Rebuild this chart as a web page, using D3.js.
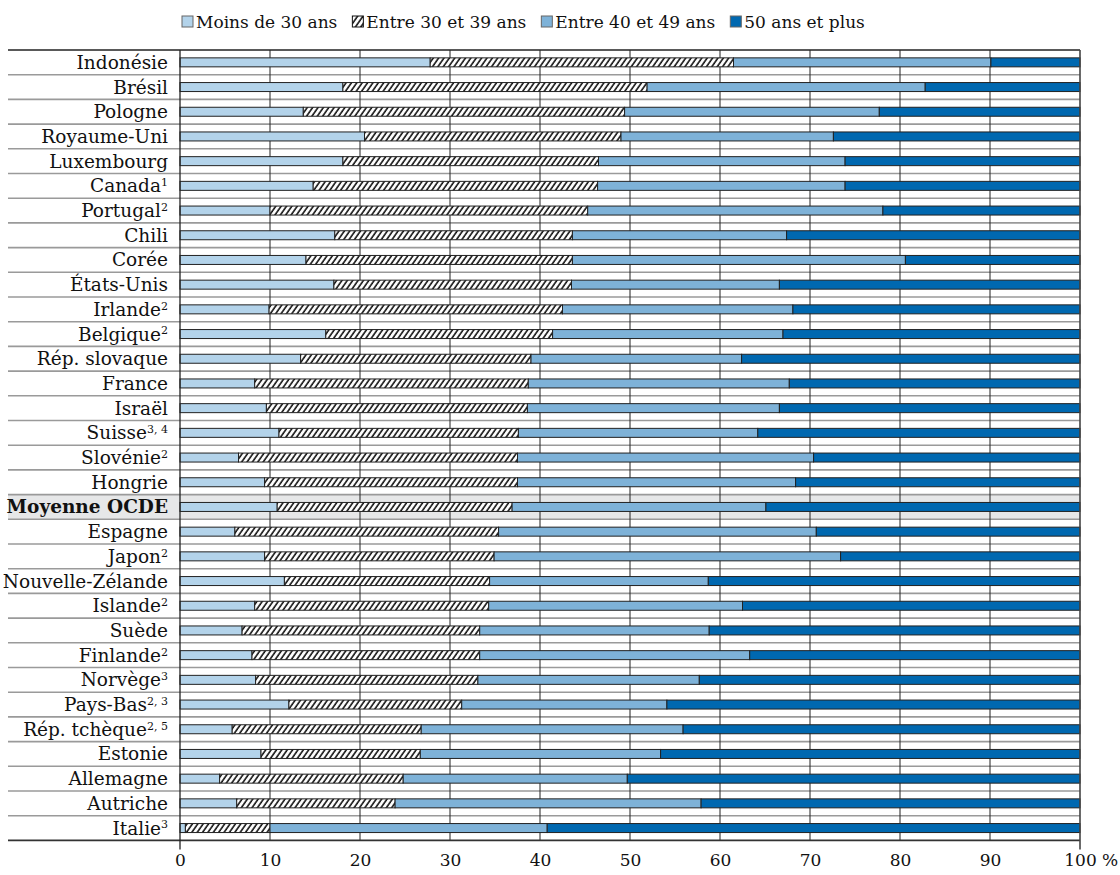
<!DOCTYPE html>
<html><head><meta charset="utf-8">
<script src="https://cdn.jsdelivr.net/npm/d3@7"></script>
<style>
html,body{margin:0;padding:0;background:#fff;}
svg text{font-family:"DejaVu Serif",serif;fill:#111;}
</style></head>
<body>
<svg id="chart" width="1120" height="875"></svg>
<script>
const countries = ["Indonésie","Brésil","Pologne","Royaume-Uni","Luxembourg","Canada","Portugal","Chili","Corée","États-Unis","Irlande","Belgique","Rép. slovaque","France","Israël","Suisse","Slovénie","Hongrie","Moyenne OCDE","Espagne","Japon","Nouvelle-Zélande","Islande","Suède","Finlande","Norvège","Pays-Bas","Rép. tchèque","Estonie","Allemagne","Autriche","Italie"];
const notes = ["","","","","","1","2","","","","2","2","","","","3, 4","2","","","","2","","2","","2","3","2, 3","2, 5","","","","3"];
const under30 = [27.8,18.1,13.7,20.5,18.1,14.8,10.0,17.2,14.0,17.1,9.9,16.2,13.4,8.3,9.6,11.0,6.5,9.4,10.8,6.1,9.4,11.6,8.3,6.9,8.0,8.4,12.1,5.8,9.0,4.4,6.3,0.6];
const age30to39 = [33.7,33.8,35.7,28.5,28.4,31.6,35.3,26.4,29.6,26.4,32.6,25.2,25.6,30.4,29.0,26.6,31.0,28.1,26.1,29.3,25.5,22.8,26.0,26.4,25.3,24.7,19.2,21.0,17.7,20.4,17.6,9.4];
const age40to49 = [28.6,30.9,28.3,23.6,27.4,27.5,32.8,23.8,37.0,23.1,25.6,25.6,23.4,29.0,28.0,26.6,32.9,30.9,28.2,35.3,38.5,24.3,28.2,25.5,30.0,24.6,22.8,29.1,26.7,24.9,34.0,30.8];
const over50 = [9.9,17.2,22.3,27.4,26.1,26.1,21.9,32.6,19.4,33.4,31.9,33.0,37.6,32.3,33.4,35.8,29.6,31.6,34.9,29.3,26.6,41.3,37.5,41.2,36.7,42.3,45.9,44.1,46.6,50.3,42.1,59.2];
const seriesNames = ["Moins de 30 ans","Entre 30 et 39 ans","Entre 40 et 49 ans","50 ans et plus"];
const xTicks = [0,10,20,30,40,50,60,70,80,90,100];
const highlight = "Moyenne OCDE";

const keys = ["a","b","c","d"];
const colors = {a:"#b3d3ea", b:"url(#hatch)", c:"#7eb2d8", d:"#0068b0"};
const rows = countries.map((c,i)=>({country:c, note:notes[i], a:under30[i], b:age30to39[i], c:age40to49[i], d:over50[i]}));

const svg = d3.select("#chart");
const defs = svg.append("defs");
const pat = defs.append("pattern").attr("id","hatch").attr("patternUnits","userSpaceOnUse")
  .attr("width",4.4).attr("height",10).attr("patternTransform","rotate(35)");
pat.append("rect").attr("width",4.4).attr("height",10).attr("fill","#fff");
pat.append("line").attr("x1",1).attr("x2",1).attr("y1",0).attr("y2",10).attr("stroke","#111").attr("stroke-width",1.6);

const pLeft = 180, pRight = 1080, pTop = 50, pBottom = 840.4, labelLeft = 8;
const x = d3.scaleLinear().domain([0,100]).range([pLeft,pRight]);
const y = d3.scaleBand().domain(countries).range([pTop,pBottom]).paddingInner(0.636).paddingOuter(0.318);
const step = y.step();

// highlight row background
svg.append("rect").attr("x",labelLeft).attr("width",pRight-labelLeft)
  .attr("y", y(highlight) + y.bandwidth()/2 - step/2).attr("height",step).attr("fill","#e6e7e8");

// row separators
const seps = d3.range(1,countries.length).map(i=> pTop + i*step);
svg.append("g").selectAll("line").data(seps).join("line")
  .attr("x1",labelLeft).attr("x2",pRight).attr("y1",d=>d).attr("y2",d=>d)
  .attr("stroke","#9a9a9a").attr("stroke-width",1.6);

// vertical gridlines
svg.append("g").selectAll("line").data(xTicks.filter(t=>t>0 && t<100)).join("line")
  .attr("x1",d=>x(d)).attr("x2",d=>x(d)).attr("y1",pTop).attr("y2",pBottom)
  .attr("stroke","#222").attr("stroke-width",1);

// bars
const stacked = d3.stack().keys(keys)(rows);
svg.append("g").selectAll("g").data(stacked).join("g")
  .attr("fill",d=>colors[d.key])
  .selectAll("rect").data(d=>d).join("rect")
  .attr("x",d=>x(d[0])).attr("width",d=>x(d[1])-x(d[0]))
  .attr("y",d=>y(d.data.country)).attr("height",y.bandwidth())
  .attr("stroke","#222").attr("stroke-width",1);

// frame lines
svg.append("line").attr("x1",labelLeft).attr("x2",pRight).attr("y1",pTop).attr("y2",pTop).attr("stroke","#222").attr("stroke-width",1.3);
svg.append("line").attr("x1",labelLeft).attr("x2",pRight).attr("y1",pBottom).attr("y2",pBottom).attr("stroke","#333").attr("stroke-width",1.6);
svg.append("line").attr("x1",x(0)).attr("x2",x(0)).attr("y1",pTop).attr("y2",pBottom+9).attr("stroke","#222").attr("stroke-width",1.3);
svg.append("line").attr("x1",x(100)).attr("x2",x(100)).attr("y1",pTop).attr("y2",pBottom+9).attr("stroke","#444").attr("stroke-width",1.6);

// x-axis labels
const xa = svg.append("g").attr("transform",`translate(0,${pBottom})`)
  .call(d3.axisBottom(x).tickValues(xTicks).tickSize(0).tickPadding(14).tickFormat(d=>d));
xa.select(".domain").remove();
xa.selectAll("text").style("font-family",'"DejaVu Serif",serif').style("font-size","17px").attr("fill","#111");
xa.selectAll(".tick").filter(d=>d===100).select("text").each(function(){
  const t = d3.select(this); const w = this.getComputedTextLength();
  t.attr("text-anchor","start").attr("x",-w/2);
  t.append("tspan").text(" %");
});

// y labels
const lab = svg.append("g").selectAll("text").data(rows).join("text")
  .attr("x",pLeft-12).attr("y",d=>y(d.country)+y.bandwidth()/2).attr("dy","0.35em")
  .attr("text-anchor","end").style("font-size","18.5px")
  .style("font-weight",d=>d.country===highlight?"bold":"normal");
lab.append("tspan").text(d=>d.country);
lab.filter(d=>d.note).append("tspan").attr("dy","-0.55em").style("font-size","11px").text(d=>d.note);

// legend
const lg = svg.append("g").attr("transform","translate(182,22)");
let lx = 0;
seriesNames.forEach((n,i)=>{
  const g = lg.append("g").attr("transform",`translate(${lx},0)`);
  g.append("rect").attr("x",0).attr("y",-6).attr("width",11).attr("height",11)
    .attr("fill",colors[keys[i]]).attr("stroke",i===1?"#111":"#666").attr("stroke-width",1);
  const t = g.append("text").attr("x",14).attr("y",0).attr("dy","0.35em").style("font-size","17px").text(n);
  lx += 14 + t.node().getComputedTextLength() + 15;
});
</script>
</body></html>
